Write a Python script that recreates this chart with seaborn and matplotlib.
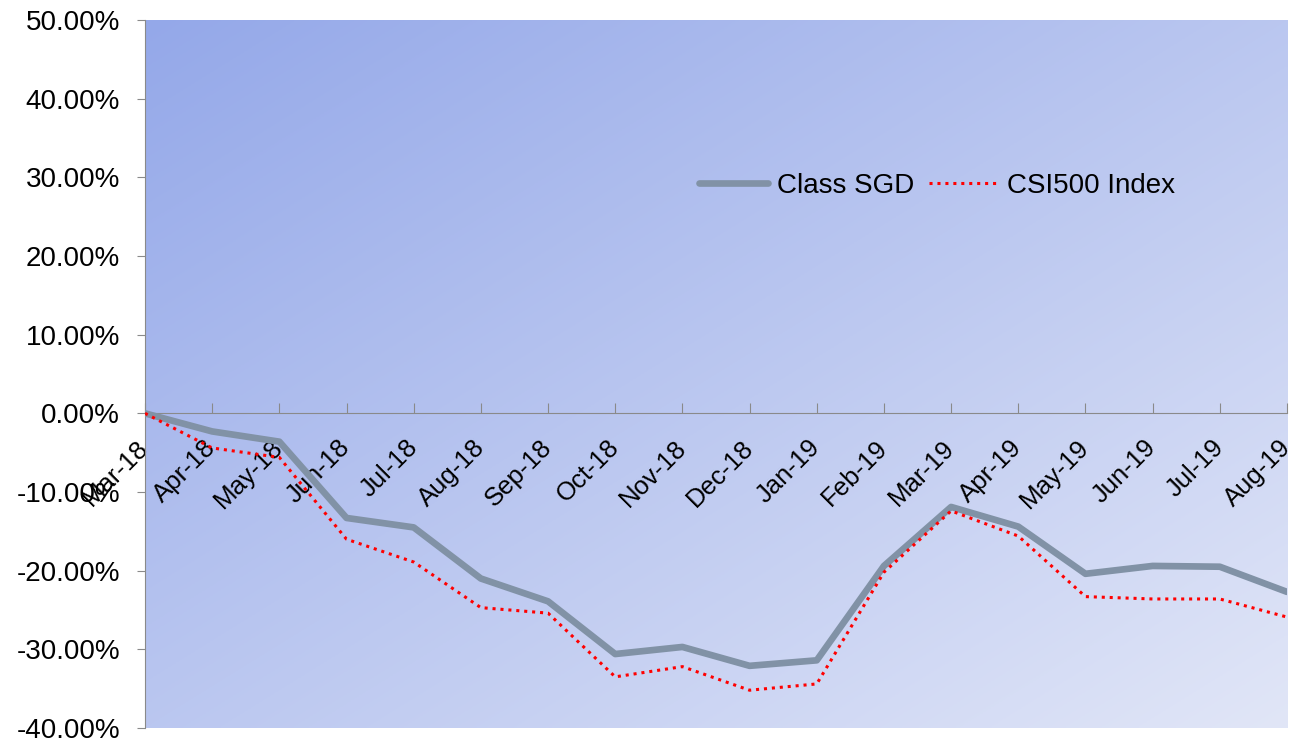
import numpy as np
import pandas as pd
import matplotlib
matplotlib.use('Agg')
import matplotlib.pyplot as plt
import seaborn as sns

# monthly cumulative returns (%)
months = ['Mar-18', 'Apr-18', 'May-18', 'Jun-18', 'Jul-18', 'Aug-18', 'Sep-18',
          'Oct-18', 'Nov-18', 'Dec-18', 'Jan-19', 'Feb-19', 'Mar-19', 'Apr-19',
          'May-19', 'Jun-19', 'Jul-19', 'Aug-19']
class_sgd = [0.0, -2.3, -3.6, -13.3, -14.5, -21.0, -23.9, -30.6, -29.7, -32.1,
             -31.4, -19.4, -11.9, -14.4, -20.4, -19.4, -19.5, -22.7]
csi500 = [0.0, -4.4, -5.6, -16.0, -18.9, -24.7, -25.4, -33.5, -32.2, -35.2,
          -34.4, -20.2, -12.4, -15.6, -23.3, -23.6, -23.6, -25.9]
y_ticks = [-40, -30, -20, -10, 0, 10, 20, 30, 40, 50]

df = pd.DataFrame({'idx': range(len(months)), 'Class SGD': class_sgd, 'CSI500 Index': csi500})

sns.set_style('white')
plt.rcParams['font.family'] = ['Liberation Sans', 'DejaVu Sans']
plt.rcParams['text.color'] = 'black'
plt.rcParams['xtick.color'] = 'black'
plt.rcParams['ytick.color'] = 'black'

fig = plt.figure(figsize=(12.91, 7.42), dpi=100)
ax = fig.add_axes([0.1123, 0.0189, 0.8846, 0.9541])

# diagonal gradient background (darker top-left)
gx, gy = np.meshgrid(np.linspace(0, 1, 300), np.linspace(0, 1, 300))
t = (gx + gy) / 2
c0 = np.array([148, 168, 233]) / 255
c1 = np.array([225, 230, 247]) / 255
img = c0[None, None, :] * (1 - t[..., None]) + c1[None, None, :] * t[..., None]
ax.imshow(img, extent=[0, 1, 0, 1], transform=ax.transAxes, aspect='auto', zorder=0)

sns.lineplot(data=df, x='idx', y='Class SGD', ax=ax, color='#8192a6', linewidth=4.8,
             label='Class SGD', zorder=3)
sns.lineplot(data=df, x='idx', y='CSI500 Index', ax=ax, color='#ff0000', linewidth=2.2,
             linestyle=(0, (1, 1.6)), label='CSI500 Index', zorder=4)

ax.spines['bottom'].set_position(('data', 0))
for s in ['top', 'right']:
    ax.spines[s].set_visible(False)
ax.spines['left'].set_color('#8a8a8a')
ax.spines['bottom'].set_color('#8a8a8a')

ax.set_xlim(0, len(months) - 1)
ax.set_ylim(-40, 50)
ax.set_yticks(y_ticks)
ax.set_yticklabels(['%.2f%%' % v for v in y_ticks], fontsize=20)
ax.set_xticks(range(len(months)))
ax.set_xticklabels(months, rotation=45, ha='right', va='center', rotation_mode='anchor',
                   fontsize=18.5)
ax.set_xlabel('')
ax.set_ylabel('')

ax.tick_params(axis='y', direction='out', length=6, color='#8a8a8a', left=True, pad=12)
ax.tick_params(axis='x', direction='in', length=7, color='#8a8a8a', bottom=True, pad=22)

ax.legend(loc='center', bbox_to_anchor=(0.6935, 0.766), ncol=2, frameon=False,
          fontsize=20, handlelength=2.5, columnspacing=0.55, handletextpad=0.3)

fig.savefig('out.png', dpi=100)
